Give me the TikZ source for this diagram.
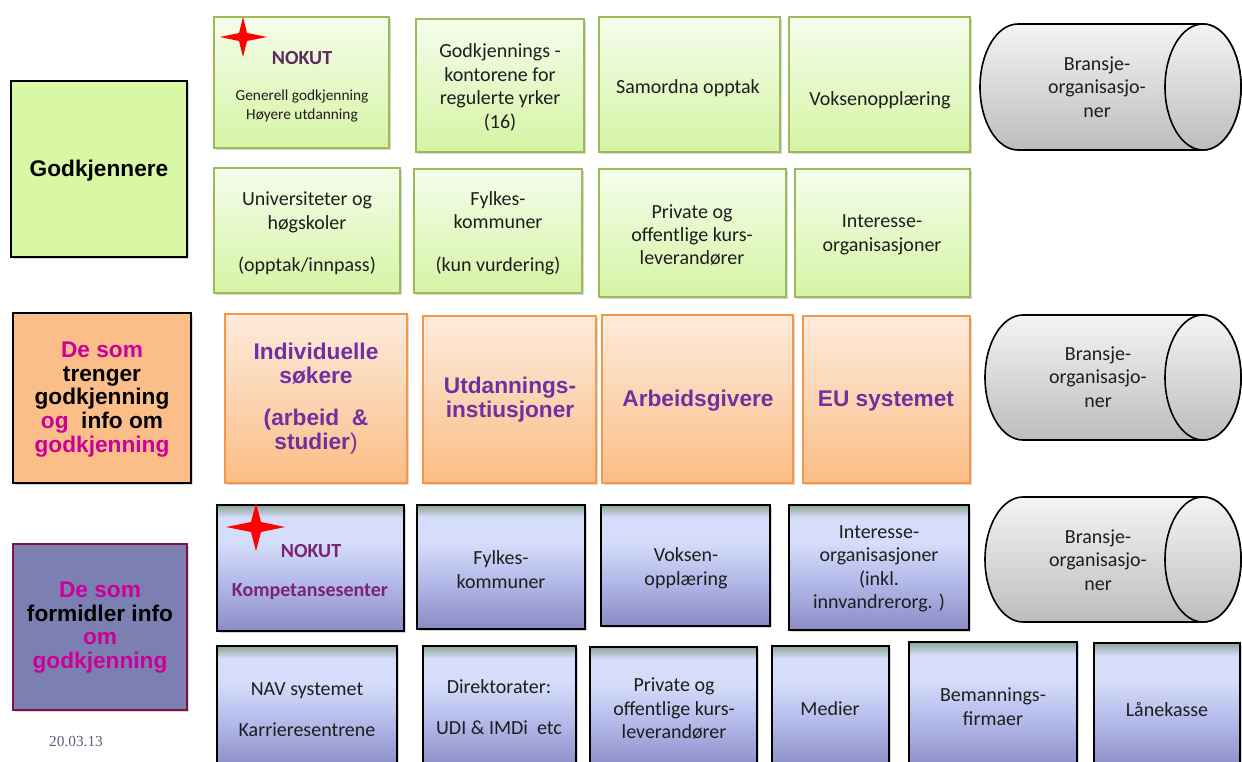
\documentclass[tikz,border=0pt]{standalone}
\usepackage{fontspec}
\setmainfont{Carlito}
\newfontfamily\headfont{Liberation Sans}
\newfontfamily\datefont{Liberation Serif}
\usetikzlibrary{fit,shadows}

% palette
\definecolor{gline}{HTML}{9BBB59}
\definecolor{gtop}{HTML}{F5FDEC}
\definecolor{gbot}{HTML}{D5F4A4}
\definecolor{oline}{HTML}{F79646}
\definecolor{otop}{HTML}{FDEBDD}
\definecolor{obot}{HTML}{FBBD86}
\definecolor{btop}{HTML}{8DA596}
\definecolor{blight}{HTML}{D5DDFA}
\definecolor{bmid}{HTML}{B5BBEA}
\definecolor{bbot}{HTML}{8A8BC6}
\definecolor{cyltop}{HTML}{F4F4F4}
\definecolor{cylbot}{HTML}{BDBDBD}
\definecolor{labgreen}{HTML}{D8F8A6}
\definecolor{laborange}{HTML}{FBBE88}
\definecolor{labblue}{HTML}{7B7FB1}
\definecolor{labblueline}{HTML}{7A1445}
\definecolor{magenta}{HTML}{CC0099}
\definecolor{opurple}{HTML}{7030A0}
\definecolor{npurple}{HTML}{5F2A62}
\definecolor{kpurple}{HTML}{7B2378}
\definecolor{datecol}{HTML}{6B5A80}
\definecolor{bodytext}{HTML}{1E1E1E}
\definecolor{starred}{HTML}{FF0000}

\pgfdeclareverticalshading{bluebox}{100bp}{color(0bp)=(bbot); color(25bp)=(bbot);
  color(45bp)=(bmid); color(60bp)=(blight); color(70bp)=(blight);
  color(75bp)=(btop); color(100bp)=(btop)}

\newcommand\bodyfont{\fontsize{15}{17.6}\selectfont}
\newcommand\smallbody{\fontsize{11.5}{13.5}\selectfont}
\newcommand\labfont{\headfont\bfseries\fontsize{17}{17.8}\selectfont}
\newcommand\rowfont{\headfont\bfseries\fontsize{17}{18}\selectfont}

% horizontal cylinder: left x, right x, top y, bottom y
\newcommand\drawcyl[4]{%
  \pgfmathsetmacro\cylxl{#1+38}%
  \pgfmathsetmacro\cylxr{#2-38}%
  \pgfmathsetmacro\cylym{(#3+#4)/2}%
  \pgfmathsetmacro\cylry{(#4-#3)/2*0.75}%
  \path[cyl] (\cylxl,#3) -- (\cylxr,#3)
    arc[start angle=90,end angle=-90,x radius=28.5pt,y radius=\cylry pt]
    -- (\cylxl,#4)
    arc[start angle=270,end angle=90,x radius=28.5pt,y radius=\cylry pt] -- cycle;
  \path[cyl] (\cylxr,\cylym) ellipse[x radius=28.5pt,y radius=\cylry pt];
}

\tikzset{
  box/.style={inner sep=0pt,
    drop shadow={shadow xshift=1.2pt, shadow yshift=-1.2pt, opacity=.3}},
  gbox/.style={box, draw=gline, line width=1.6pt, top color=gtop, bottom color=gbot},
  obox/.style={box, draw=oline, line width=1.6pt, top color=otop, bottom color=obot},
  bbox/.style={box, draw=black, line width=1.6pt, shading=bluebox},
  lab/.style={line width=2pt, inner sep=0pt,
    drop shadow={shadow xshift=1.2pt, shadow yshift=-1.2pt, opacity=.3}},
  cyl/.style={draw=black, line width=1.2pt, top color=cyltop, bottom color=cylbot},
  txt/.style={align=center, inner sep=0pt, font=\bodyfont, text=bodytext},
  labtxt/.style={align=center, inner sep=0pt, font=\labfont, text=black},
  rowtxt/.style={align=center, inner sep=0pt, font=\rowfont, text=opurple},
  star/.style={fill=starred},
}

\begin{document}
\begin{tikzpicture}[x=0.75pt, y=-0.75pt]
\useasboundingbox (0,0) rectangle (1242,762);
\fill[white] (0,0) rectangle (1242,762);
\clip (0,0) rectangle (1242,762);

% ---- group labels on the left
\node[lab, draw=black, fill=labgreen, fit={(11,81)(187,257)}] (godk) {};
\node[labtxt] (godkt) at (99,171) {Godkjennere};
\node[lab, draw=black, fill=laborange, fit={(13,313)(191,483)}] (trenger) {};
\node[labtxt] (trengert) at (102,399.5)
  {\textcolor{magenta}{De som}\\trenger\\godkjenning\\\textcolor{magenta}{og}\ \ info om\\\textcolor{magenta}{godkjenning}};
\node[lab, draw=labblueline, fill=labblue, fit={(13,544)(187,710)}] (formidler) {};
\node[labtxt] (formidlert) at (100,627.5)
  {\textcolor{magenta}{De som}\\formidler info\\\textcolor{magenta}{om}\\\textcolor{magenta}{godkjenning}};
\node[txt, font=\datefont\fontsize{11.5}{13}\selectfont, text=datecol] (dato) at (76,742) {20.03.13};

% ---- approving bodies, first row
\node[gbox, fit={(214,17)(389,148)}] (nokutg) {};
\node[txt, font=\bodyfont\bfseries, text=npurple] (nokutgt) at (302,58) {NOKUT};
\node[txt, font=\smallbody] (nokutgs) at (302,106) {Generell godkjenning\\Høyere utdanning};
\node[gbox, fit={(416,19)(584,152)}] (kontor) {};
\node[txt] (kontort) at (500,87.5) {Godkjennings -\\kontorene for\\regulerte yrker\\(16)};
\node[gbox, fit={(599,17)(780,152)}] (samordna) {};
\node[txt] (samordnat) at (688,88) {Samordna opptak};
\node[gbox, fit={(789,17)(970,152)}] (voksen) {};
\node[txt] (voksent) at (880,100) {Voksenopplæring};

% ---- approving bodies, second row
\node[gbox, fit={(214,168)(400,293)}] (univ) {};
\node[txt] (univt) at (307,233.5) {Universiteter og\\høgskoler\\[14pt](opptak/innpass)};
\node[gbox, fit={(414,169)(582,293)}] (fylkeg) {};
\node[txt] (fylkegt) at (498,233) {Fylkes-\\kommuner\\[14pt](kun vurdering)};
\node[gbox, fit={(599,169)(786,297)}] (privatg) {};
\node[txt] (privatgt) at (692,235) {Private og\\offentlige kurs-\\leverandører};
\node[gbox, fit={(795,169)(970,297)}] (interg) {};
\node[txt] (intergt) at (882,235) {Interesse-\\organisasjoner};

% ---- those who need approval
\node[obox, fit={(225,314)(407,483)}] (indiv) {};
\node[rowtxt] (indivt) at (316,399) {Individuelle\\søkere\\[13.5pt](arbeid\ \ \&\\studier{\mdseries )}};
\node[obox, fit={(423,316)(596,483)}] (utd) {};
\node[rowtxt] (utdt) at (510,400) {Utdannings-\\instiusjoner};
\node[obox, fit={(602,315)(793,483)}] (arbeid) {};
\node[rowtxt] (arbeidt) at (698,401) {Arbeidsgivere};
\node[obox, fit={(803,316)(970,483)}] (eu) {};
\node[rowtxt] (eut) at (886,401) {EU systemet};

% ---- information providers, first row
\node[bbox, fit={(217,505)(404,631)}] (nokutb) {};
\node[txt, font=\bodyfont\bfseries, text=kpurple] (nokutbt) at (311,551) {NOKUT};
\node[txt, font=\bodyfont\bfseries, text=kpurple] (nokutbs) at (310,592) {Kompetansesenter};
\node[bbox, fit={(417,505)(585,629)}] (fylkeb) {};
\node[txt] (fylkebt) at (501,569.5) {Fylkes-\\kommuner};
\node[bbox, fit={(601,505)(770,626)}] (voksenb) {};
\node[txt] (voksenbt) at (686,568.5) {Voksen-\\opplæring};
\node[bbox, fit={(789,505)(969,630)}] (interb) {};
\node[txt] (interbt) at (879,569) {Interesse-\\organisasjoner\\(inkl.\\innvandrerorg. )};

% ---- information providers, second row
\node[bbox, fit={(217,646)(397,770)}] (nav) {};
\node[txt] (navt) at (307,709.5) {NAV systemet\\[13pt]Karrieresentrene};
\node[bbox, fit={(423,646)(576,770)}] (direk) {};
\node[txt] (direkt) at (499,707.5) {Direktorater:\\[13pt]UDI \& IMDi\ \ etc};
\node[bbox, fit={(590,647)(757,770)}] (privatb) {};
\node[txt] (privatbt) at (674,708.5) {Private og\\offentlige kurs-\\leverandører};
\node[bbox, fit={(772,646)(889,770)}] (medier) {};
\node[txt] (mediert) at (830,709) {Medier};
\node[bbox, fit={(909,642)(1077,770)}] (bemann) {};
\node[txt] (bemannt) at (993,706.5) {Bemannings-\\firmaer};
\node[bbox, fit={(1094,643)(1240,770)}] (lanekasse) {};
\node[txt] (lanekasset) at (1167,709) {Lånekasse};

% ---- industry organisations
\drawcyl{980}{1241}{24}{150}
\node[txt] (bransje1) at (1097,87) {Bransje-\\organisasjo-\\ner};
\drawcyl{985}{1241}{315}{440}
\node[txt] (bransje2) at (1098,377) {Bransje-\\organisasjo-\\ner};
\drawcyl{985}{1241}{497}{622}
\node[txt] (bransje3) at (1098,560) {Bransje-\\organisasjo-\\ner};

% ---- red four-pointed stars
\fill[star] (243,17) -- (247,33) -- (267,37) -- (247,41) -- (243,57)
  -- (239,41) -- (220,37) -- (239,33) -- cycle;
\fill[star] (256,503) -- (261,522) -- (285,527) -- (261,532) -- (256,551)
  -- (251,532) -- (226,527) -- (251,522) -- cycle;
\end{tikzpicture}
\end{document}
